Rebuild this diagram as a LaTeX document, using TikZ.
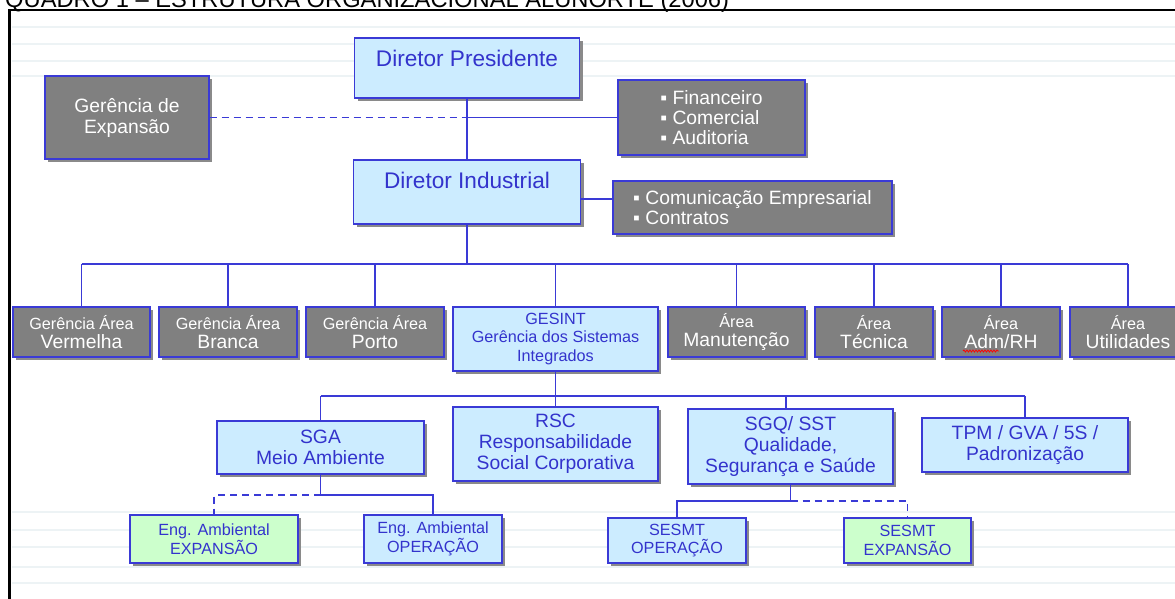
\documentclass[tikz,border=0pt]{standalone}
\usepackage{fontspec}
\setmainfont{Liberation Sans}
\usetikzlibrary{shadows,decorations.pathmorphing}
\definecolor{lineblue}{HTML}{3A3AD6}
\definecolor{txtblue}{HTML}{3333CC}
\definecolor{boxblue}{HTML}{CCECFF}
\definecolor{boxgreen}{HTML}{CCFFCC}
\definecolor{boxgray}{HTML}{808080}
\definecolor{shade}{HTML}{8A8A8A}
\definecolor{faint}{HTML}{EDF3F5}
\newcommand\ftitle{\fontsize{23.7}{26}\selectfont}
\newcommand\fbig{\fontsize{22.6}{26}\selectfont}
\newcommand\fmid{\fontsize{19.3}{21}\selectfont}
\newcommand\flist{\fontsize{19.3}{20}\selectfont}
\newcommand\fsmall{\fontsize{16.2}{18.5}\selectfont}
\tikzset{
  box/.style={draw=lineblue, line width=1.3pt, inner sep=0pt, align=center,
    drop shadow={shadow xshift=3pt, shadow yshift=-3pt, fill=shade, opacity=1}},
  bluebox/.style={box, fill=boxblue, text=txtblue},
  graybox/.style={box, fill=boxgray, text=white},
  greenbox/.style={box, fill=boxgreen, text=txtblue},
  rowbox/.style={graybox, minimum height=50pt, font=\fsmall},
  toptxt/.style={anchor=north, inner sep=0pt, yshift=-13pt, font=\fbig, text=txtblue},
  link/.style={lineblue, line width=1.2pt},
  dlink/.style={link, dash pattern=on 7pt off 5pt},
}
\begin{document}
\begin{tikzpicture}[x=1pt,y=-1pt]
\useasboundingbox (0,0) rectangle (1175,599);
\clip (0,0) rectangle (1175,599);
\foreach \y in {27,44,61,76,512,530,547,567,583}
  \draw[faint, line width=2pt] (12,\y) -- (1175,\y);
\draw[line width=2pt] (8,10.5) -- (1175,10.5);
\draw[line width=3.5pt] (9.5,10) -- (9.5,599);
\node[anchor=base west, font=\ftitle, inner sep=0pt] (title) at (5,7.5) {QUADRO 1 – ESTRUTURA ORGANIZACIONAL ALUNORTE (2006)};

\node[bluebox, minimum width=225pt, minimum height=60pt, label={[toptxt]north:Diretor Presidente}] (dp) at (467,68) {};
\node[graybox, minimum width=164pt, minimum height=83pt, font=\fmid] (ge) at (127,117.5) {Gerência de\\Expansão};
\node[graybox, minimum width=187pt, minimum height=75pt, font=\flist, align=left] (fin) at (711.5,117.5) {▪ Financeiro\\▪ Comercial\\▪ Auditoria};
\node[bluebox, minimum width=227pt, minimum height=64pt, label={[toptxt]north:Diretor Industrial}] (di) at (467,192) {};
\node[graybox, minimum width=279pt, minimum height=53pt, font=\flist, align=left] (com) at (752.5,207.5) {▪ Comunicação Empresarial\\▪ Contratos};

\node[rowbox, minimum width=137pt] (vermelha) at (81.5,332) {Gerência Área\\\fmid Vermelha};
\node[rowbox, minimum width=138pt] (branca) at (228,332) {Gerência Área\\\fmid Branca};
\node[rowbox, minimum width=138pt] (porto) at (375,332) {Gerência Área\\\fmid Porto};
\node[bluebox, minimum width=205pt, minimum height=64pt, font=\fsmall] (gesint) at (555.5,339) {GESINT\\Gerência dos Sistemas\\Integrados};
\node[rowbox, minimum width=137pt] (manut) at (736.5,332) {Área\\\fmid Manutenção};
\node[rowbox, minimum width=118pt] (tecnica) at (874,332) {Área\\\fmid Técnica};
\node[rowbox, minimum width=118pt] (admrh) at (1001,332) {Área\\\fmid Adm/RH};
\node[rowbox, minimum width=116pt] (util) at (1128,332) {Área\\\fmid Utilidades};

\node[bluebox, minimum width=207pt, minimum height=53pt, font=\fmid] (sga) at (320.5,447.5) {SGA\\Meio Ambiente};
\node[bluebox, minimum width=205pt, minimum height=74pt, font=\fmid] (rsc) at (555.5,444) {RSC\\Responsabilidade\\Social Corporativa};
\node[bluebox, minimum width=205pt, minimum height=75pt, font=\fmid] (sgq) at (790.5,446.5) {SGQ/ SST\\Qualidade,\\Segurança e Saúde};
\node[bluebox, minimum width=206pt, minimum height=54pt, font=\fmid] (tpm) at (1025,445) {TPM / GVA / 5S /\\Padronização};

\node[greenbox, minimum width=168pt, minimum height=48pt, font=\fsmall] (engexp) at (214,539) {Eng. Ambiental\\EXPANSÃO};
\node[bluebox, minimum width=138pt, minimum height=48pt, font=\fsmall] (engop) at (433,539) {Eng. Ambiental\\OPERAÇÃO};
\node[bluebox, minimum width=138pt, minimum height=45pt, font=\fsmall] (sesop) at (677,540.5) {SESMT\\OPERAÇÃO};
\node[greenbox, minimum width=127pt, minimum height=45pt, font=\fsmall] (sesexp) at (907.5,540.5) {SESMT\\EXPANSÃO};

\coordinate (j1) at (dp.south |- fin.west);
\draw[dlink] (ge.east) -- (j1);
\draw[link] (j1) -- (fin.west);
\draw[link] (dp.south) -- (di.north);
\coordinate (j2) at (0,199);
\draw[link] (di.east |- j2) -- (com.west |- j2);

\coordinate (bus) at (0,264);
\draw[link] (di.south) -- (di.south |- bus);
\draw[link] (vermelha.north |- bus) -- (util.north |- bus);
\foreach \n in {vermelha,branca,porto,gesint,manut,tecnica,admrh,util}
  \draw[link] (\n.north |- bus) -- (\n.north);

\coordinate (bus2) at (0,396);
\draw[link] (gesint.south) -- (gesint.south |- bus2);
\draw[link] (sga.north |- bus2) -- (tpm.north |- bus2);
\foreach \n in {sga,rsc,tpm}
  \draw[link] (\n.north |- bus2) -- (\n.north);
\draw[link] ([xshift=-4.5pt]sgq.north |- bus2) -- ([xshift=-4.5pt]sgq.north);

\coordinate (bus3) at (0,495);
\draw[link] (sga.south) -- (sga.south |- bus3) -| (engop.north);
\draw[dlink] (sga.south |- bus3) -| (engexp.north);
\coordinate (bus4) at (0,501);
\draw[link] (sgq.south) -- (sgq.south |- bus4) -| (sesop.north);
\draw[dlink] (sgq.south |- bus4) -| (sesexp.north);

\draw[red, line width=0.8pt, decorate, decoration={snake, amplitude=1pt, segment length=3pt}] (963,351) -- (999,351);
\end{tikzpicture}
\end{document}
